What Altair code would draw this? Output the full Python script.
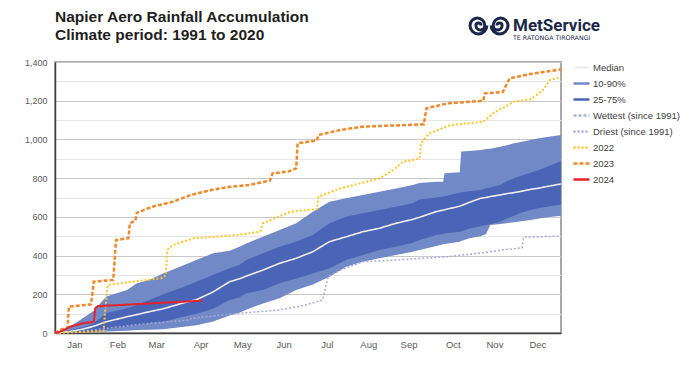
import altair as alt
import pandas as pd

# ---------------- text ----------------
title_lines = ["Napier Aero Rainfall Accumulation", "Climate period: 1991 to 2020"]
logo_name = "MetService"
logo_tagline = "TE RATONGA TIRORANGI"

months = ["Jan", "Feb", "Mar", "Apr", "May", "Jun", "Jul", "Aug", "Sep", "Oct", "Nov", "Dec"]
month_mid_days = [14, 45, 73, 105, 135, 165, 196, 226, 255, 287, 317, 348]
y_ticks = list(range(0, 1401, 100))

series_names = ["Median", "10-90%", "25-75%", "Wettest (since 1991)",
                "Driest (since 1991)", "2022", "2023", "2024"]

# ---------------- climatology bands ----------------
band_days = [0, 11, 20, 28, 37, 52, 59, 68, 78, 90, 102, 114, 126, 133, 138, 150, 162, 174,
             186, 198, 210, 222, 234, 246, 258, 263, 275, 280, 281, 292, 293, 299, 307, 311,
             314, 321, 326, 331, 335, 343, 348, 355, 365]
p90 = [0, 33, 76, 115, 188, 222, 257, 274, 308, 342, 377, 412, 425, 446, 463, 497, 532, 567,
       627, 678, 696, 713, 730, 747, 764, 775, 782, 782, 825, 830, 937, 940, 945, 950,
       952, 962, 970, 980, 985, 997, 1005, 1012, 1023]
p75 = [0, 15, 30, 50, 102, 128, 145, 170, 200, 230, 265, 300, 334, 351, 377, 412, 446, 472,
       506, 567, 601, 618, 635, 652, 670, 690, 700, 705, 706, 725, 727, 732, 739, 748,
       752, 764, 785, 799, 810, 828, 840, 859, 888]
median = [0, 8, 20, 35, 58, 84, 95, 110, 125, 150, 172, 212, 265, 280, 294, 325, 360, 386,
          420, 472, 497, 523, 541, 567, 587, 598, 627, 635, 637, 655, 658, 675, 696, 700,
          705, 713, 720, 725, 730, 742, 747, 757, 770]
p25 = [0, 3, 8, 12, 20, 33, 40, 50, 58, 80, 100, 125, 170, 185, 205, 222, 257, 282,
       308, 334, 377, 403, 429, 446, 466, 480, 506, 512, 514, 523, 525, 540, 552, 558,
       562, 575, 592, 605, 618, 635, 644, 652, 664]
p10 = [0, 1, 3, 5, 8, 12, 15, 17, 20, 30, 40, 60, 90, 105, 120, 153, 179, 222,
       250, 291, 342, 368, 386, 403, 420, 429, 449, 458, 460, 472, 475, 489, 500, 511,
       558, 563, 567, 572, 576, 584, 590, 598, 606]

# ---------------- individual years ----------------
driest_days = [0, 20, 38, 68, 97, 98, 133, 162, 181, 193, 197, 206, 222, 246, 283, 309, 326, 337, 338, 365]
driest_vals = [0, 10, 25, 50, 67, 75, 102, 119, 145, 170, 291, 325, 368, 377, 394, 415, 432, 440, 494, 501]

y2022_days = [0, 35, 36, 38, 45, 78, 80, 81, 85, 100, 120, 131, 148, 150, 170, 189, 190, 206,
              220, 234, 244, 251, 263, 264, 270, 275, 285, 309, 316, 331, 343, 352, 357, 365]
y2022_vals = [0, 10, 100, 248, 255, 285, 300, 429, 454, 489, 500, 506, 523, 567, 627, 640, 704, 747,
              773, 799, 842, 885, 900, 980, 1031, 1045, 1074, 1091, 1135, 1195, 1207, 1255, 1307, 1321]

y2023_days = [0, 5, 9, 10, 26, 28, 42, 44, 53, 54, 58, 59, 70, 85, 98, 113, 126, 140, 155, 157,
              169, 174, 175, 189, 190, 206, 222, 266, 268, 283, 309, 310, 323, 328, 343, 365]
y2023_vals = [0, 20, 25, 136, 148, 265, 274, 480, 490, 568, 580, 621, 652, 678, 713, 739, 755, 765, 787, 825,
              835, 850, 980, 995, 1023, 1049, 1066, 1078, 1161, 1186, 1200, 1238, 1245, 1316, 1338, 1362]

y2024_days = [0, 5, 11, 20, 28, 29, 31, 37, 80, 106]
y2024_vals = [0, 10, 33, 50, 58, 127, 139, 141, 157, 167]

# ---------------- styles ----------------
FONT = "Liberation Sans"
LIGHT = "#7189c7"
DARK = "#4a65b5"
NAVY = "#1b2748"
series_colors = ["#eeeeee", LIGHT, DARK, "#a4b8e3", "#aaa8d8", "#ffc425", "#f0892a", "#e3232a"]
series_dashes = [[1, 0], [1, 0], [1, 0], [3, 2], [2, 2], [2, 2], [4, 2], [1, 0]]

band_df = pd.DataFrame({"day": band_days, "p10": p10, "p25": p25, "p75": p75, "p90": p90})


def series_df(days, vals, name):
    return pd.DataFrame({"day": days, "value": vals, "series": name})


x_scale = alt.Scale(domain=[0, 365], nice=False, zero=False)
y_scale = alt.Scale(domain=[0, 1400], nice=False)

label_expr = ("[" + ",".join("'%s'" % m for m in months) + "][indexof(["
              + ",".join(str(d) for d in month_mid_days) + "], datum.value)]")

x_axis = alt.Axis(values=month_mid_days, labelExpr=label_expr, title=None, grid=False,
                  ticks=False, domainColor="#404040", domainWidth=1.5, labelFont=FONT,
                  labelFontSize=9.5, labelColor="#595959", labelPadding=6,
                  labelFlush=False, labelOverlap=False)
y_axis = alt.Axis(values=y_ticks,
                  labelExpr="datum.value % 200 === 0 ? format(datum.value, ',') : ''",
                  title=None, ticks=False, grid=True,
                  gridColor={"condition": {"test": "datum.value % 200 === 0", "value": "#c8c8c8"},
                             "value": "#e6e6e6"},
                  gridWidth=1, domainColor="#404040", domainWidth=1.5, labelFont=FONT,
                  labelFontSize=9, labelColor="#595959", labelPadding=8)

legend = alt.Legend(title=None, orient="none", legendX=517, legendY=-4, symbolType="stroke",
                    symbolSize=256, symbolStrokeWidth=2.5, labelFont=FONT, labelFontSize=9.5,
                    labelColor="#404040", rowPadding=1, labelOffset=2, padding=0)
color_enc = alt.Color("series:N", scale=alt.Scale(domain=series_names, range=series_colors),
                      legend=legend, sort=series_names)
dash_enc = alt.StrokeDash("series:N", scale=alt.Scale(domain=series_names, range=series_dashes),
                          legend=legend, sort=series_names)

light = alt.Chart(band_df).mark_area(color=LIGHT, opacity=1).encode(
    x=alt.X("day:Q", scale=x_scale, axis=x_axis),
    y=alt.Y("p90:Q", scale=y_scale, axis=y_axis),
    y2="p10:Q")
dark = alt.Chart(band_df).mark_area(color=DARK, opacity=1).encode(
    x=alt.X("day:Q", scale=x_scale, axis=x_axis),
    y=alt.Y("p75:Q", scale=y_scale, axis=y_axis),
    y2="p25:Q")


def line_layer(df, width):
    return alt.Chart(df).mark_line(strokeWidth=width, strokeCap="butt").encode(
        x=alt.X("day:Q", scale=x_scale, axis=x_axis),
        y=alt.Y("value:Q", scale=y_scale, axis=y_axis),
        color=color_enc, strokeDash=dash_enc)


med_l = line_layer(series_df(band_days, median, "Median"), 1.6)
dry_l = line_layer(series_df(driest_days, driest_vals, "Driest (since 1991)"), 1.5)
l2022 = line_layer(series_df(y2022_days, y2022_vals, "2022"), 2)
l2023 = line_layer(series_df(y2023_days, y2023_vals, "2023"), 2.5)
l2024 = line_layer(series_df(y2024_days, y2024_vals, "2024"), 2)

# ---------------- title (drawn as text) ----------------
title1 = alt.Chart(pd.DataFrame({"t": [title_lines[0]]})).mark_text(
    align="left", baseline="alphabetic", font=FONT, fontSize=15.5, fontWeight="bold",
    color="#1f1f1f").encode(text="t:N", x=alt.value(0), y=alt.value(-40.5))
title2 = alt.Chart(pd.DataFrame({"t": [title_lines[1]]})).mark_text(
    align="left", baseline="alphabetic", font=FONT, fontSize=15.5, fontWeight="bold",
    color="#1f1f1f").encode(text="t:N", x=alt.value(0), y=alt.value(-22))

# ---------------- logo ----------------
swirl = ("M -0.38 0 A 0.12 0.12 0 0 0 -0.62 0 A 0.21 0.21 0 0 0 -0.2 0 "
         "A 0.35 0.35 0 0 0 -0.9 0 A 0.4 0.4 0 0 0 -0.1 0 "
         "M 0.38 0 A 0.12 0.12 0 0 1 0.62 0 A 0.21 0.21 0 0 1 0.2 0 "
         "A 0.35 0.35 0 0 1 0.9 0 A 0.4 0.4 0 0 1 0.1 0")
logo_df = pd.DataFrame({"name": [logo_name], "tag": [logo_tagline]})
icon = alt.Chart(logo_df).mark_point(shape=swirl, size=1782, filled=False, stroke=NAVY,
                                     strokeWidth=3, opacity=1).encode(
    x=alt.value(434), y=alt.value(-36.5))
logo_text = alt.Chart(logo_df).mark_text(align="left", baseline="alphabetic", font="Roboto",
                                         fontSize=17, fontWeight="bold", color=NAVY).encode(
    text="name:N", x=alt.value(458), y=alt.value(-31))
logo_tag = alt.Chart(logo_df).mark_text(align="left", baseline="alphabetic", font="DejaVu Sans",
                                        fontSize=6.3, color=NAVY).encode(
    text="tag:N", x=alt.value(458), y=alt.value(-22.5))

chart = alt.layer(light, dark, med_l, dry_l, l2022, l2023, l2024,
                  title1, title2, icon, logo_text, logo_tag).properties(
    width=506, height=271, background="white",
    autosize=alt.AutoSizeParams(type="none"),
    padding={"left": 47, "top": 54, "right": 122, "bottom": 18},
).configure_view(stroke="#8c8c8c", strokeWidth=1.5)

chart.save("out.html", embed_options={"renderer": "svg", "actions": False})
